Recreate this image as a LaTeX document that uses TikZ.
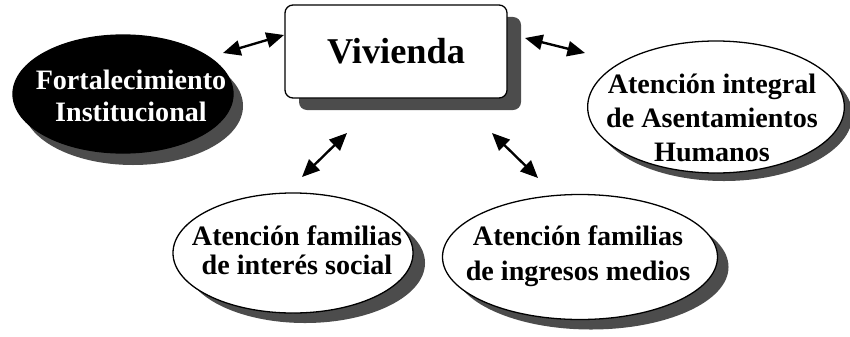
\documentclass[tikz,border=0pt]{standalone}
\usepackage{fontspec}
\setmainfont{Liberation Serif}
\usetikzlibrary{shapes.geometric,shadows,arrows.meta}
\begin{document}
\begin{tikzpicture}[x=0.03cm,y=-0.03cm,
  shp/.style={draw=black,line width=1.1pt,fill=white,inner sep=0pt,outer sep=0pt},
  ell/.style={shp,ellipse},
  shad/.style 2 args={drop shadow={shadow xshift=#1,shadow yshift=#2,fill=black!70,opacity=1}},
  txt/.style={align=center,inner sep=0pt,font=\bfseries\fontsize{24}{#1}\selectfont},
  biarrow/.style={line width=2pt,{Triangle[length=15pt,width=13pt]}-{Triangle[length=15pt,width=13pt]}}
]
\useasboundingbox (0,0) rectangle (850,336);
% shapes
\node[shp,rounded corners=0.24cm,minimum width=6.66cm,minimum height=2.79cm,
      shad={0.42cm}{-0.36cm},font=\bfseries\fontsize{31}{36}\selectfont]
      (viv) at (396,51.5) {Vivienda};
\node[ell,fill=black,minimum width=6.6cm,minimum height=3.54cm,shad={0.3cm}{-0.36cm}] (fi) at (123,94) {};
\node[ell,minimum width=7.7cm,minimum height=3.96cm,shad={0.24cm}{-0.24cm}] (ai) at (716,107) {};
\node[ell,minimum width=7.2cm,minimum height=3.6cm,shad={0.36cm}{-0.3cm}] (fs) at (293,253) {};
\node[ell,minimum width=8.25cm,minimum height=3.75cm,shad={0.33cm}{-0.3cm}] (fm) at (580,257) {};
% texts
\node[txt=28pt,text=white] (fit) at (131,96) {Fortalecimiento\\Institucional};
\node[txt=29pt] (ait) at (712,118) {Atención integral\\de Asentamientos\\Humanos};
\node[txt=25pt] (fst) at (297,250) {Atención familias\\de interés social};
\node[txt=30pt] (fmt) at (578,256) {Atención familias\\de ingresos medios};
% connectors
\draw[biarrow] ([shift={(100,-41)}]fi.center) -- ([shift={(-112,-16.5)}]viv.center);
\draw[biarrow] ([shift={(129,-13.5)}]viv.center) -- ([shift={(-131,-54)}]ai.center);
\draw[biarrow] ([shift={(9,-76)}]fs.center) -- ([shift={(-49,81.5)}]viv.center);
\draw[biarrow] ([shift={(96,81.5)}]viv.center) -- ([shift={(-42,-79)}]fm.center);
\end{tikzpicture}
\end{document}
